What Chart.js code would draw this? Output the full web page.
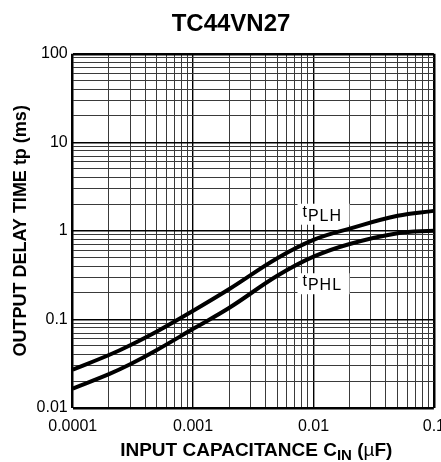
<!DOCTYPE html>
<html>
<head>
<meta charset="utf-8">
<script src="https://cdn.jsdelivr.net/npm/chart.js@4.4.1/dist/chart.umd.min.js"></script>
<style>
  body { margin: 0; background: #fff; }
  #wrap { width: 441px; height: 462px; overflow: hidden; }
</style>
</head>
<body>
<div id="wrap"><canvas id="delayChart" width="454" height="462"></canvas></div>
<script>
// input capacitance (uF)
const capacitance = [0.0001, 0.0002, 0.0003, 0.0005, 0.001, 0.002, 0.005, 0.01, 0.02, 0.05, 0.1];
// output delay time (ms)
const tPLH = [0.027, 0.0395, 0.051, 0.073, 0.125, 0.22, 0.49, 0.79, 1.06, 1.48, 1.68];
const tPHL = [0.0165, 0.024, 0.031, 0.045, 0.078, 0.135, 0.31, 0.51, 0.71, 0.94, 1.0];

const xDecades = [0.0001, 0.001, 0.01, 0.1];
const xTickLabels = ['0.0001', '0.001', '0.01', '0.1'];
const yDecades = [0.01, 0.1, 1, 10, 100];
const yTickLabels = ['0.01', '0.1', '1', '10', '100'];

const FONT = '"Liberation Sans", Arial, sans-serif';

// 1..9 per decade for the log grid
function gridValues(decades) {
    const vals = [];
    decades.forEach((d, i) => {
        if (i === decades.length - 1) { vals.push(d); return; }
        for (let m = 1; m <= 9; m++) vals.push(+(d * m).toPrecision(3));
    });
    return vals;
}

function isDecade(v, decades) {
    return decades.some(d => Math.abs(v - d) / d < 1e-6);
}

function gridStyle(decades) {
    const lo = decades[0], hi = decades[decades.length - 1];
    return {
        drawTicks: false,
        color: ctx => isDecade(ctx.tick.value, decades) ? '#000' : '#3a3a3a',
        lineWidth: ctx => {
            const v = ctx.tick.value;
            if (Math.abs(v - lo) / lo < 1e-6 || Math.abs(v - hi) / hi < 1e-6) return 2.5;
            return isDecade(v, decades) ? 1.4 : 1;
        }
    };
}

// curve labels with subscripts and white boxes
const curveLabels = {
    id: 'curveLabels',
    beforeDatasetsDraw(chart) {
        const { ctx, scales } = chart;
        const items = [
            { sub: 'PLH', x: 0.0081, y: 1.30 },
            { sub: 'PHL', x: 0.0081, y: 0.213 }
        ];
        ctx.save();
        items.forEach(it => {
            const px = scales.x.getPixelForValue(it.x);
            const py = scales.y.getPixelForValue(it.y);
            ctx.fillStyle = '#fff';
            ctx.fillRect(px - 5, py - 17, 52, 21);
            ctx.fillStyle = '#000';
            ctx.textBaseline = 'alphabetic';
            ctx.textAlign = 'left';
            ctx.font = '16px ' + FONT;
            ctx.fillText('t', px, py - 4);
            const tw = ctx.measureText('t').width;
            ctx.letterSpacing = '1px';
            ctx.fillText(it.sub, px + tw + 1, py);
            ctx.letterSpacing = '0px';
        });
        ctx.restore();
    }
};

// x axis title with subscript
const xTitle = {
    id: 'xTitle',
    afterDraw(chart) {
        const { ctx, chartArea } = chart;
        const parts = [
            { t: 'INPUT CAPACITANCE C', f: 'bold 19px ' + FONT, dy: 0 },
            { t: 'IN', f: 'bold 15px ' + FONT, dy: 4 },
            { t: ' (', f: 'bold 19px ' + FONT, dy: 0 },
            { t: '\u00b5', f: '19px ' + FONT, dy: 0 },
            { t: 'F)', f: 'bold 19px ' + FONT, dy: 0 }
        ];
        ctx.save();
        let total = 0;
        parts.forEach(p => { ctx.font = p.f; p.w = ctx.measureText(p.t).width; total += p.w; });
        let x = (chartArea.left + chartArea.right) / 2 + 3 - total / 2;
        const y = 456;
        ctx.fillStyle = '#000';
        ctx.textBaseline = 'alphabetic';
        ctx.textAlign = 'left';
        parts.forEach(p => {
            ctx.font = p.f;
            ctx.fillText(p.t, x, y + p.dy);
            x += p.w;
        });
        ctx.restore();
    }
};

const xGrid = gridValues(xDecades);
const yGrid = gridValues(yDecades);

new Chart(document.getElementById('delayChart').getContext('2d'), {
    type: 'line',
    data: {
        datasets: [{
            label: 'tPLH',
            data: capacitance.map((c, i) => ({ x: c, y: tPLH[i] })),
            borderColor: '#000',
            borderWidth: 4,
            pointRadius: 0,
            tension: 0.4
        }, {
            label: 'tPHL',
            data: capacitance.map((c, i) => ({ x: c, y: tPHL[i] })),
            borderColor: '#000',
            borderWidth: 4,
            pointRadius: 0,
            tension: 0.4
        }]
    },
    options: {
        responsive: false,
        animation: false,
        layout: { padding: { left: 8, right: 0, top: 0, bottom: 17 } },
        plugins: {
            legend: { display: false },
            tooltip: { enabled: false },
            title: {
                display: true,
                text: 'TC44VN27',
                color: '#000',
                font: { family: FONT, size: 24, weight: 'bold' },
                padding: { top: 10, bottom: 15 }
            }
        },
        scales: {
            x: {
                type: 'logarithmic',
                min: 0.0001,
                max: 0.1,
                afterBuildTicks: s => { s.ticks = xGrid.map(v => ({ value: v })); },
                ticks: {
                    autoSkip: false,
                    maxRotation: 0,
                    padding: 9,
                    color: '#000',
                    font: { family: FONT, size: 16 },
                    callback: v => {
                        const i = xDecades.findIndex(d => Math.abs(v - d) / d < 1e-6);
                        return i >= 0 ? xTickLabels[i] : '';
                    }
                },
                grid: gridStyle(xDecades),
                border: { display: false }
            },
            y: {
                type: 'logarithmic',
                min: 0.01,
                max: 100,
                afterBuildTicks: s => { s.ticks = yGrid.map(v => ({ value: v })); },
                ticks: {
                    autoSkip: false,
                    padding: 5,
                    color: '#000',
                    font: { family: FONT, size: 16 },
                    callback: v => {
                        const i = yDecades.findIndex(d => Math.abs(v - d) / d < 1e-6);
                        return i >= 0 ? yTickLabels[i] : '';
                    }
                },
                grid: gridStyle(yDecades),
                border: { display: false },
                title: {
                    display: true,
                    text: 'OUTPUT DELAY TIME tp (ms)',
                    color: '#000',
                    font: { family: FONT, size: 18, weight: 'bold' },
                    padding: { top: 2, bottom: 0 }
                }
            }
        }
    },
    plugins: [curveLabels, xTitle]
});
</script>
</body>
</html>
